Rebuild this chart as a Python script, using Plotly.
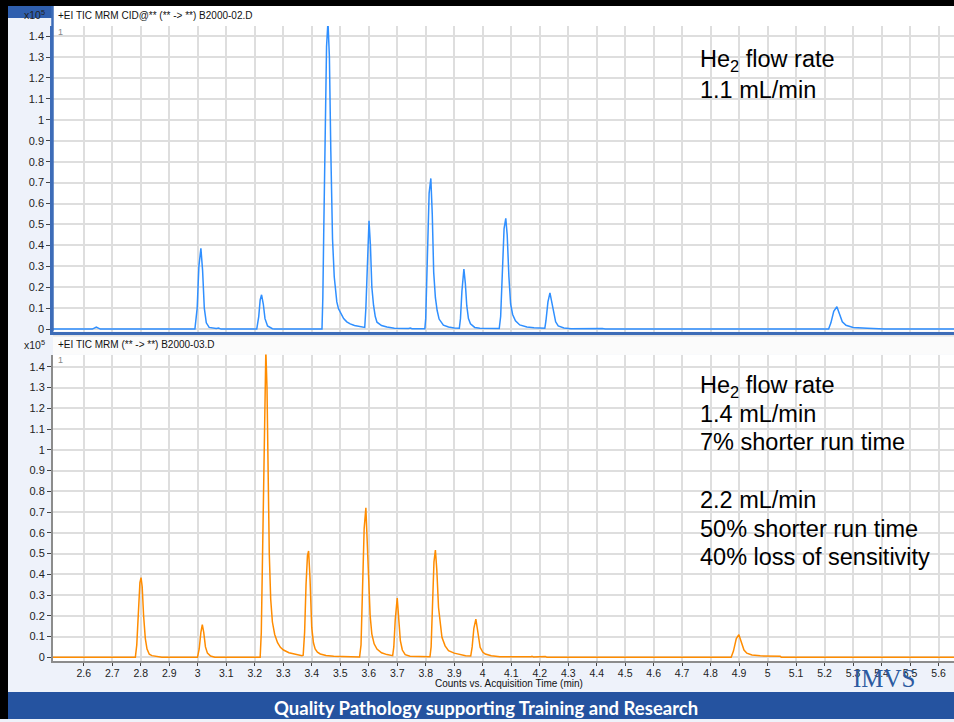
import plotly.graph_objects as go

W, H = 954, 722

# ---------------- data ----------------
top_time = [
    2.492, 2.630, 2.644, 2.658,
    2.990, 2.998, 3.004, 3.011, 3.017, 3.023, 3.030, 3.040, 3.065, 3.073, 3.082,
    3.207, 3.214, 3.219, 3.224, 3.230, 3.236, 3.245, 3.262, 3.270,
    3.436, 3.439, 3.442, 3.447, 3.452, 3.457, 3.462, 3.467, 3.473, 3.479, 3.483, 3.488, 3.494, 3.503, 3.512, 3.523, 3.535, 3.550, 3.565, 3.582,
    3.586, 3.590, 3.595, 3.601, 3.606, 3.611, 3.617, 3.623, 3.629, 3.645, 3.664, 3.690, 3.740, 3.746, 3.752, 3.797,
    3.800, 3.806, 3.812, 3.818, 3.823, 3.828, 3.834, 3.840, 3.847, 3.862, 3.880, 3.900, 3.918,
    3.922, 3.927, 3.934, 3.939, 3.944, 3.950, 3.957, 3.972, 3.990, 4.058,
    4.063, 4.069, 4.075, 4.081, 4.086, 4.092, 4.098, 4.105, 4.115, 4.130, 4.155, 4.180, 4.200, 4.218,
    4.222, 4.229, 4.236, 4.242, 4.249, 4.256, 4.265, 4.285, 4.310, 4.390, 4.400, 4.420, 4.430,
    5.214, 5.222, 5.232, 5.243, 5.252, 5.262, 5.275, 5.300, 5.350, 5.405, 5.410, 5.654,
]
top_counts = [
    0, 0, 0.010, 0,
    0, 0.10, 0.30, 0.386, 0.28, 0.10, 0.03, 0.008, 0.003, 0.005, 0,
    0, 0.06, 0.14, 0.164, 0.12, 0.05, 0.015, 0.002, 0,
    0, 0.15, 0.45, 0.95, 1.35, 1.47, 1.30, 0.85, 0.43, 0.25, 0.19, 0.13, 0.097, 0.07, 0.05, 0.035, 0.025, 0.017, 0.012, 0.008,
    0.008, 0.10, 0.35, 0.518, 0.40, 0.20, 0.113, 0.06, 0.033, 0.017, 0.010, 0.004, 0.003, 0.005, 0.002, 0.002,
    0.05, 0.35, 0.65, 0.72, 0.55, 0.272, 0.15, 0.09, 0.048, 0.019, 0.010, 0.005, 0.004,
    0.05, 0.18, 0.287, 0.22, 0.113, 0.05, 0.025, 0.008, 0.004, 0.003,
    0.06, 0.28, 0.48, 0.529, 0.45, 0.25, 0.12, 0.07, 0.04, 0.02, 0.010, 0.007, 0.005, 0.004,
    0.04, 0.13, 0.173, 0.13, 0.07, 0.035, 0.015, 0.005, 0.002, 0.002, 0.004, 0.003, 0,
    0, 0.03, 0.085, 0.107, 0.07, 0.035, 0.018, 0.008, 0.004, 0.003, 0, 0,
]

bottom_time = [
    2.492, 2.781, 2.786, 2.792, 2.797, 2.801, 2.805, 2.810, 2.816, 2.822, 2.830, 2.839, 2.855, 2.874,
    2.999, 3.005, 3.011, 3.016, 3.021, 3.027, 3.034, 3.045, 3.060,
    3.219, 3.223, 3.227, 3.232, 3.236, 3.239, 3.243, 3.247, 3.251, 3.256, 3.262, 3.270, 3.280, 3.290, 3.301, 3.320, 3.336, 3.352, 3.366,
    3.370, 3.375, 3.380, 3.385, 3.389, 3.394, 3.400, 3.406, 3.412, 3.420, 3.430, 3.450, 3.477, 3.515, 3.521, 3.527, 3.568,
    3.573, 3.578, 3.584, 3.590, 3.595, 3.599, 3.605, 3.611, 3.619, 3.629, 3.645, 3.664, 3.684,
    3.688, 3.693, 3.700, 3.705, 3.711, 3.718, 3.728, 3.745, 3.815,
    3.819, 3.824, 3.829, 3.834, 3.839, 3.845, 3.851, 3.857, 3.868, 3.880, 3.900, 3.921, 3.940, 3.958,
    3.963, 3.969, 3.976, 3.981, 3.986, 3.991, 4.000, 4.009, 4.030, 4.060, 4.170, 4.173, 4.178, 4.215, 4.220, 4.225,
    4.872, 4.880, 4.890, 4.899, 4.904, 4.909, 4.917, 4.927, 4.945, 4.974, 5.044, 5.048, 5.654,
]
bottom_counts = [
    0, 0, 0.06, 0.22, 0.36, 0.384, 0.34, 0.20, 0.09, 0.04, 0.015, 0.008, 0.004, 0,
    0, 0.04, 0.12, 0.157, 0.12, 0.05, 0.02, 0.006, 0,
    0, 0.12, 0.45, 1.00, 1.40, 1.48, 1.30, 0.85, 0.50, 0.28, 0.17, 0.11, 0.07, 0.048, 0.035, 0.022, 0.016, 0.011, 0.008,
    0.010, 0.12, 0.35, 0.49, 0.512, 0.38, 0.144, 0.07, 0.04, 0.025, 0.016, 0.009, 0.005, 0.003, 0.005, 0.002, 0.002,
    0.06, 0.30, 0.62, 0.72, 0.55, 0.368, 0.20, 0.112, 0.065, 0.04, 0.022, 0.013, 0.008,
    0.05, 0.18, 0.285, 0.20, 0.08, 0.035, 0.013, 0.005, 0.003,
    0.05, 0.25, 0.46, 0.517, 0.42, 0.24, 0.15, 0.096, 0.055, 0.032, 0.02, 0.013, 0.008, 0.006,
    0.05, 0.14, 0.184, 0.14, 0.08, 0.048, 0.025, 0.016, 0.007, 0.003, 0.003, 0.005, 0.002, 0.002, 0.004, 0,
    0, 0.03, 0.09, 0.109, 0.09, 0.064, 0.035, 0.02, 0.011, 0.007, 0.005, 0, 0,
]

x_tick_vals = [2.6, 2.7, 2.8, 2.9, 3.0, 3.1, 3.2, 3.3, 3.4, 3.5, 3.6, 3.7, 3.8, 3.9, 4.0,
               4.1, 4.2, 4.3, 4.4, 4.5, 4.6, 4.7, 4.8, 4.9, 5.0, 5.1, 5.2, 5.3, 5.4, 5.5, 5.6]
x_tick_text = ["2.6", "2.7", "2.8", "2.9", "3", "3.1", "3.2", "3.3", "3.4", "3.5", "3.6", "3.7", "3.8", "3.9", "4",
               "4.1", "4.2", "4.3", "4.4", "4.5", "4.6", "4.7", "4.8", "4.9", "5", "5.1", "5.2", "5.3", "5.4", "5.5", "5.6"]
y_tick_vals = [0, 0.1, 0.2, 0.3, 0.4, 0.5, 0.6, 0.7, 0.8, 0.9, 1.0, 1.1, 1.2, 1.3, 1.4]
y_tick_text = ["0", "0.1", "0.2", "0.3", "0.4", "0.5", "0.6", "0.7", "0.8", "0.9", "1", "1.1", "1.2", "1.3", "1.4"]

top_header = "+EI TIC MRM CID@** (** -> **) B2000-02.D"
bottom_header = "+EI TIC MRM (** -> **) B2000-03.D"
scale_label = "x10<sup>5</sup>"
x_title = "Counts vs. Acquisition Time (min)"
top_note = ["He<sub>2</sub> flow rate", "1.1 mL/min"]
bottom_note = ["He<sub>2</sub> flow rate", "1.4 mL/min", "7% shorter run time",
               "2.2 mL/min", "50% shorter run time", "40% loss of sensitivity"]
banner_text = "Quality Pathology supporting Training and Research"
logo_text = "IMVS"

# ---------------- helpers ----------------
def px(x):
    return x / W


def py(y):
    return 1 - y / H


FONT = "Arial, 'Liberation Sans', Helvetica, sans-serif"
BLUE_LINE = "#2f8fff"
ORANGE_LINE = "#ff8c00"
GRID = "#dedede"

fig = go.Figure()
fig.add_trace(go.Scatter(x=top_time, y=top_counts, mode="lines",
                         line=dict(color=BLUE_LINE, width=1.5),
                         xaxis="x", yaxis="y", hoverinfo="skip", showlegend=False))
fig.add_trace(go.Scatter(x=bottom_time, y=bottom_counts, mode="lines",
                         line=dict(color=ORANGE_LINE, width=1.5),
                         xaxis="x2", yaxis="y2", hoverinfo="skip", showlegend=False))

xr = [2.492, 5.654]
common_x = dict(range=xr, tickvals=x_tick_vals, ticktext=x_tick_text,
                showgrid=True, gridcolor=GRID, gridwidth=1.5, zeroline=False,
                domain=[px(53), 1], fixedrange=True)
common_y = dict(tickvals=y_tick_vals, ticktext=y_tick_text, showgrid=True,
                gridcolor=GRID, gridwidth=1.5, zeroline=False, ticks="outside",
                ticklen=4, tickwidth=1, tickcolor="#444",
                tickfont=dict(family=FONT, size=11, color="#222"), fixedrange=True)

fig.update_layout(
    width=W, height=H, autosize=False,
    margin=dict(l=0, r=0, t=0, b=0, pad=0),
    paper_bgcolor="#eef2fa", plot_bgcolor="#ffffff",
    showlegend=False,
    xaxis=dict(**common_x, anchor="y", showticklabels=False, ticks="",
               showline=True, linecolor="#3d6cb8", linewidth=3),
    yaxis=dict(**common_y, domain=[py(333), py(26)], range=[-0.012, 1.449], anchor="x",
               showline=True, linecolor="#3d6cb8", linewidth=2.5),
    xaxis2=dict(**common_x, anchor="y2", ticks="outside", ticklen=3, tickcolor="#444",
                tickfont=dict(family=FONT, size=10.5, color="#222"), ticklabelstandoff=-2,
                showline=True, linecolor="#8c8c8c", linewidth=2),
    yaxis2=dict(**common_y, domain=[py(664), py(356)], range=[-0.019, 1.459], anchor="x2",
                showline=True, linecolor="#8c8c8c", linewidth=2),
)

shapes = [
    # header strips
    dict(type="rect", xref="paper", yref="paper", x0=px(53), x1=1, y0=py(26), y1=py(5),
         fillcolor="#ffffff", line=dict(width=0), layer="below"),
    dict(type="rect", xref="paper", yref="paper", x0=px(53), x1=1, y0=py(356), y1=py(338),
         fillcolor="#fbfbfb", line=dict(width=0), layer="below"),
    dict(type="rect", xref="paper", yref="paper", x0=px(53), x1=1, y0=py(338), y1=py(334),
         fillcolor="#e4e4e4", line=dict(width=0), layer="below"),
    # selected-panel highlight
    dict(type="rect", xref="paper", yref="paper", x0=px(8), x1=px(52), y0=py(18), y1=py(5),
         fillcolor="#2f5fae", line=dict(width=0), layer="below"),
    dict(type="line", xref="paper", yref="paper", x0=px(52.5), x1=px(52.5), y0=py(333), y1=py(5),
         line=dict(color="#3d6cb8", width=2.5), layer="above"),
    # slide frame
    dict(type="rect", xref="paper", yref="paper", x0=0, x1=px(8), y0=0, y1=1,
         fillcolor="#000000", line=dict(width=0), layer="above"),
    dict(type="rect", xref="paper", yref="paper", x0=0, x1=1, y0=py(6), y1=1,
         fillcolor="#000000", line=dict(width=0), layer="above"),
    dict(type="rect", xref="paper", yref="paper", x0=px(8), x1=1, y0=0, y1=py(695),
         fillcolor="#2553a0", line=dict(width=0), layer="above"),
]
fig.update_layout(shapes=shapes)

ann = []


def add_text(text, x, y, size, color="#000", xanchor="left", yanchor="middle", family=FONT):
    ann.append(dict(text=text, x=px(x), y=py(y), xref="paper", yref="paper",
                    showarrow=False, xanchor=xanchor, yanchor=yanchor,
                    font=dict(family=family, size=size, color=color)))


add_text(scale_label, 47, 15, 10.5, color="#222", xanchor="right")
add_text(scale_label, 47, 346, 10.5, color="#222", xanchor="right")
add_text(top_header, 56, 15.5, 10, color="#111")
add_text(bottom_header, 56, 345.5, 10, color="#111")
add_text("1", 56, 32, 9, color="#888")
add_text("1", 56, 362, 9, color="#888")

for line_text, y in zip(top_note, [61, 90]):
    add_text(line_text, 698, y, 23.5)
for line_text, y in zip(bottom_note, [388, 416, 444, 502, 531, 559]):
    add_text(line_text, 698, y, 23.5)

add_text(x_title, 509, 686, 10, color="#111", xanchor="center")
add_text(logo_text, 884, 681, 25, color="#2c5aa0", xanchor="center",
         family="'Liberation Serif', 'DejaVu Serif', Times, serif")
ann.append(dict(text="<b>" + banner_text + "</b>", x=px(486), y=py(711), xref="paper", yref="paper",
                showarrow=False, xanchor="center", yanchor="middle",
                font=dict(family="Lato, 'Open Sans', sans-serif", size=18.5, color="#ffffff")))

fig.update_layout(annotations=ann)

fig.write_html(
    "out.html", config=dict(displayModeBar=False),
    post_script=(
        "document.documentElement.style.cssText='margin:0;padding:0;overflow:hidden;height:722px;';"
        "document.body.style.cssText='margin:0;padding:0;overflow:hidden;height:722px;';"
        "window.scrollTo(0,0);"
    ),
)
